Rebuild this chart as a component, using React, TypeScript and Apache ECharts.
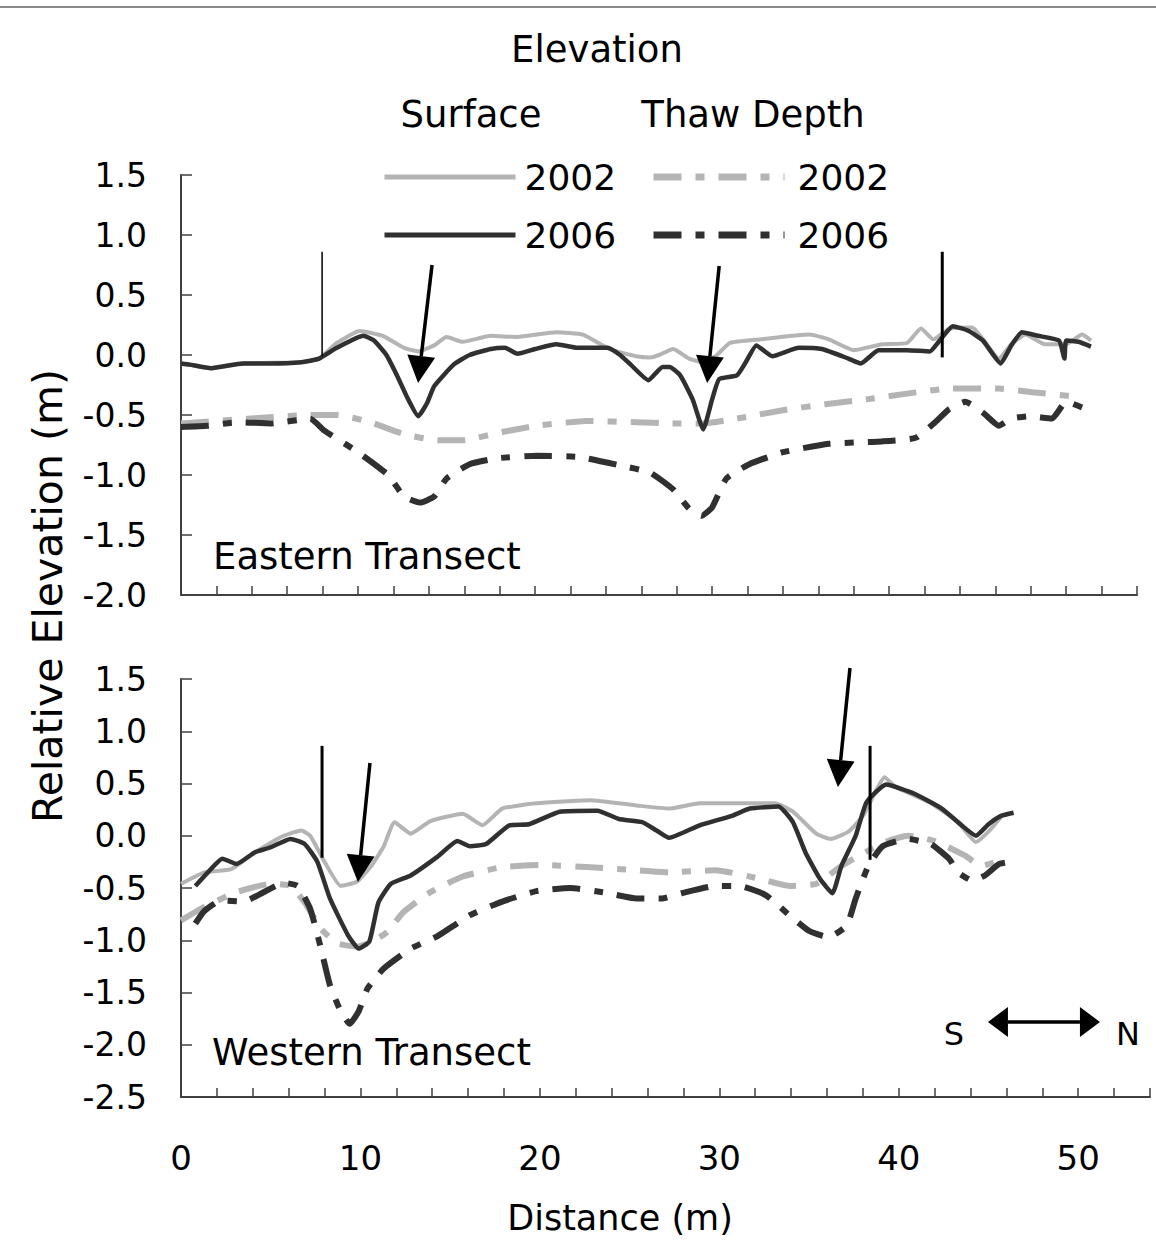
import React, { useEffect, useRef } from 'react';
import * as echarts from 'echarts';

const FONT = 'DejaVu Sans';
const DARK = '#303030';
const LIGHT = '#b4b4b4';
const THAW_DASH = [28, 14, 9, 14];

// ---------- Eastern transect (top panel) ----------
const eastSurface2002: [number, number][] = [
  [0, -0.07], [1.7, -0.11], [3.5, -0.07], [6.8, -0.06], [7.8, -0.03], [8.8, 0.1], [10.1, 0.2],
  [11.4, 0.16], [12.6, 0.06], [13.4, 0.03], [14.3, 0.08], [15.0, 0.15], [15.9, 0.11], [17.5, 0.16],
  [19.0, 0.15], [21.2, 0.19], [22.7, 0.17], [24.2, 0.05], [25.7, -0.01], [26.5, -0.02], [27.0, 0.0],
  [27.8, 0.05], [28.7, -0.03], [29.5, -0.06], [30.2, -0.01], [31.0, 0.1], [32.7, 0.13], [35.5, 0.17],
  [36.6, 0.13], [38.0, 0.04], [39.6, 0.09], [41.0, 0.1], [41.8, 0.22], [42.5, 0.13], [43.4, 0.22],
  [44.7, 0.23], [45.3, 0.13], [46.2, -0.03], [46.9, 0.09], [47.7, 0.17], [48.8, 0.09], [50.0, 0.09],
  [50.9, 0.17], [51.4, 0.12],
];
const eastSurface2006: [number, number][] = [
  [0, -0.07], [0.5, -0.08], [1.7, -0.11], [3.5, -0.07], [5.0, -0.07], [6.8, -0.06], [7.8, -0.03],
  [8.8, 0.06], [10.3, 0.16], [10.9, 0.12], [11.6, 0.0], [12.2, -0.17], [12.8, -0.36], [13.4, -0.51],
  [13.9, -0.4], [14.3, -0.26], [15.4, -0.08], [16.3, 0.0], [17.5, 0.05], [18.3, 0.06], [19.0, 0.01],
  [20.0, 0.05], [21.2, 0.09], [22.4, 0.06], [24.1, 0.06], [24.8, 0.0], [25.4, -0.08], [26.4, -0.21],
  [27.2, -0.1], [27.6, -0.1], [28.2, -0.17], [28.9, -0.37], [29.5, -0.62], [30.0, -0.37], [30.4, -0.2],
  [31.4, -0.17], [31.9, -0.06], [32.5, 0.08], [33.4, -0.01], [34.9, 0.06], [36.2, 0.05], [37.7, -0.03],
  [38.4, -0.07], [39.4, 0.04], [41.0, 0.04], [42.3, 0.03], [42.8, 0.11], [43.6, 0.24], [44.5, 0.2],
  [45.3, 0.12], [46.3, -0.07], [46.9, 0.08], [47.5, 0.19], [48.4, 0.16], [49.6, 0.12], [49.9, -0.03],
  [50.0, 0.12], [50.7, 0.11], [51.4, 0.07],
];
const eastThaw2002: [number, number][] = [
  [0, -0.57], [3.9, -0.53], [7.3, -0.5], [8.8, -0.5], [10.7, -0.56], [12.6, -0.66], [14.5, -0.71],
  [15.9, -0.71], [18.2, -0.64], [20.1, -0.59], [22.9, -0.55], [25.7, -0.56], [27.6, -0.57], [29.5, -0.57],
  [31.4, -0.53], [34.0, -0.46], [36.4, -0.41], [38.7, -0.37], [41.1, -0.32], [43.4, -0.28], [46.2, -0.28],
  [48.1, -0.31], [50.7, -0.35],
];
const eastThaw2006: [number, number][] = [
  [0, -0.6], [1.5, -0.59], [3.2, -0.56], [5.1, -0.57], [7.3, -0.53], [8.1, -0.63], [10.0, -0.81],
  [11.7, -1.0], [12.6, -1.18], [13.5, -1.23], [14.3, -1.18], [15.0, -1.03], [16.3, -0.91], [17.9, -0.86],
  [20.1, -0.84], [22.5, -0.85], [24.8, -0.92], [26.5, -0.98], [27.8, -1.12], [28.7, -1.28], [29.4, -1.34],
  [30.0, -1.27], [30.8, -1.03], [32.1, -0.91], [34.0, -0.81], [36.6, -0.74], [39.6, -0.72], [41.5, -0.69],
  [42.6, -0.56], [43.4, -0.45], [44.3, -0.39], [45.3, -0.48], [46.2, -0.59], [46.9, -0.53], [47.9, -0.51],
  [49.2, -0.53], [50.0, -0.39], [51.1, -0.45],
];

// ---------- Western transect (bottom panel) ----------
const westSurface2002: [number, number][] = [
  [0, -0.46], [1.3, -0.35], [2.8, -0.32], [4.1, -0.16], [5.6, -0.01], [6.7, 0.05], [7.2, 0.0],
  [8.0, -0.25], [8.9, -0.48], [9.8, -0.44], [10.6, -0.29], [11.3, -0.1], [11.9, 0.13], [12.8, 0.02],
  [13.9, 0.14], [15.7, 0.21], [16.8, 0.1], [17.9, 0.26], [19.8, 0.31], [22.8, 0.34], [25.4, 0.29],
  [27.2, 0.26], [28.9, 0.31], [33.1, 0.31], [34.1, 0.23], [35.4, 0.02], [36.2, -0.03], [37.2, 0.04],
  [38.0, 0.19], [38.7, 0.42], [39.2, 0.56], [39.8, 0.47], [41.7, 0.32], [43.3, 0.13], [44.3, -0.06],
  [45.0, 0.04], [45.7, 0.18],
];
const westSurface2006: [number, number][] = [
  [0.8, -0.48], [1.5, -0.35], [2.3, -0.22], [3.1, -0.27], [4.1, -0.16], [5.0, -0.11], [6.1, -0.03],
  [6.9, -0.08], [7.6, -0.25], [8.3, -0.6], [9.3, -0.95], [9.9, -1.08], [10.5, -1.01], [11.0, -0.64],
  [11.7, -0.46], [12.8, -0.38], [14.3, -0.2], [15.4, -0.05], [16.1, -0.1], [17.0, -0.08], [18.3, 0.1],
  [19.4, 0.11], [21.1, 0.23], [23.2, 0.24], [24.4, 0.16], [25.7, 0.13], [26.5, 0.05], [27.2, -0.02],
  [28.9, 0.1], [30.7, 0.19], [31.7, 0.26], [33.3, 0.28], [34.1, 0.13], [34.8, -0.16], [35.6, -0.41],
  [36.3, -0.55], [36.8, -0.29], [37.6, 0.0], [38.2, 0.32], [39.3, 0.49], [40.9, 0.4], [42.4, 0.26],
  [43.5, 0.1], [44.3, 0.0], [45.0, 0.11], [45.7, 0.19], [46.4, 0.22],
];
const westThaw2002: [number, number][] = [
  [0, -0.81], [1.3, -0.68], [3.1, -0.54], [5.0, -0.46], [6.1, -0.48], [6.9, -0.64], [7.8, -0.89],
  [8.7, -1.03], [9.8, -1.06], [10.7, -1.01], [11.5, -0.92], [12.4, -0.73], [13.9, -0.54], [15.7, -0.39],
  [17.9, -0.3], [20.2, -0.28], [22.6, -0.3], [25.4, -0.33], [27.2, -0.35], [29.8, -0.33], [32.2, -0.41],
  [33.9, -0.48], [35.4, -0.46], [36.8, -0.29], [38.1, -0.16], [39.4, -0.05], [40.5, 0.0], [42.0, -0.05],
  [43.7, -0.19], [44.6, -0.29], [45.4, -0.25],
];
const westThaw2006: [number, number][] = [
  [0.8, -0.84], [1.3, -0.72], [2.2, -0.62], [3.5, -0.63], [4.6, -0.54], [5.7, -0.45], [6.5, -0.48],
  [7.2, -0.7], [7.8, -1.08], [8.3, -1.43], [8.9, -1.68], [9.4, -1.8], [9.9, -1.68], [10.4, -1.46],
  [11.3, -1.27], [12.8, -1.08], [14.3, -0.96], [16.1, -0.76], [17.9, -0.63], [19.8, -0.53], [21.7, -0.5],
  [23.5, -0.54], [25.4, -0.6], [26.8, -0.6], [27.9, -0.55], [29.8, -0.48], [31.1, -0.48], [32.6, -0.57],
  [33.9, -0.76], [35.0, -0.91], [36.1, -0.97], [37.1, -0.86], [37.6, -0.6], [38.3, -0.29], [39.1, -0.1],
  [40.5, -0.03], [41.8, -0.08], [42.8, -0.22], [43.3, -0.35], [44.1, -0.43], [44.8, -0.38], [45.6, -0.27],
  [46.2, -0.25],
];

// ---------- Annotations (data coordinates) ----------
const eastMarkers = [
  { x: 7.97, y1: 0.86, y2: -0.01, w: 1.5 },
  { x: 43.0, y1: 0.86, y2: -0.02, w: 3 },
];
const eastArrows = [
  { from: [14.18, 0.75], to: [13.39, -0.233] },
  { from: [30.4, 0.742], to: [29.72, -0.233] },
];
const westMarkers = [
  { x: 7.86, y1: 0.86, y2: -0.21, w: 3 },
  { x: 38.4, y1: 0.86, y2: -0.23, w: 3 },
];
const westArrows = [
  { from: [10.53, 0.696], to: [9.86, -0.443] },
  { from: [37.28, 1.605], to: [36.61, 0.467] },
];
const compassArrow = { from: [44.97, -1.782], to: [51.21, -1.782] };

const X_MAX = 54;
const eastY = { min: -2.0, max: 1.5 };
const westY = { min: -2.5, max: 1.5 };

function lineSeries(name: string, data: [number, number][], grid: number, color: string, width: number, dashed: boolean, z: number) {
  return {
    type: 'line',
    name,
    data,
    xAxisIndex: grid,
    yAxisIndex: grid,
    symbol: 'none',
    showSymbol: false,
    smooth: 0.15,
    z,
    silent: true,
    lineStyle: { color, width, type: dashed ? THAW_DASH : 'solid', cap: 'butt' },
    itemStyle: { color },
    emphasis: { disabled: true },
  };
}

function xAxis(grid: number, showLabels: boolean) {
  return {
    type: 'value',
    gridIndex: grid,
    min: 0,
    max: X_MAX,
    interval: 2,
    axisLine: { show: true, onZero: false, lineStyle: { color: '#404040', width: 2 } },
    axisTick: { show: true, inside: true, length: 9, lineStyle: { color: '#404040', width: 1.5 } },
    splitLine: { show: false },
    axisLabel: {
      show: showLabels,
      margin: 44,
      fontSize: 34,
      fontFamily: FONT,
      color: '#000',
      formatter: (v: number) => (v % 10 === 0 ? String(v) : ''),
    },
  };
}

function yAxis(grid: number, range: { min: number; max: number }) {
  return {
    type: 'value',
    gridIndex: grid,
    min: range.min,
    max: range.max,
    interval: 0.5,
    axisLine: { show: true, onZero: false, lineStyle: { color: '#404040', width: 2 } },
    axisTick: { show: true, inside: true, length: 11, lineStyle: { color: '#404040', width: 1.5 } },
    splitLine: { show: false },
    axisLabel: {
      margin: 34,
      fontSize: 33,
      fontFamily: FONT,
      color: '#000',
      formatter: (v: number) => v.toFixed(1),
    },
  };
}

const option = {
  animation: false,
  backgroundColor: '#ffffff',
  grid: [
    { left: 181, top: 175, width: 956, height: 420 },
    { left: 181, top: 679, width: 969, height: 418 },
  ],
  xAxis: [xAxis(0, false), xAxis(1, true)],
  yAxis: [yAxis(0, eastY), yAxis(1, westY)],
  legend: [
    {
      data: ['Surface 2002', 'Surface 2006'],
      orient: 'vertical',
      left: 382,
      top: 159,
      padding: 0,
      itemWidth: 131,
      itemHeight: 14,
      itemGap: 22,
      selectedMode: false,
      formatter: (n: string) => n.slice(-4),
      textStyle: { fontSize: 36, fontFamily: FONT, color: '#000', padding: [0, 0, 0, 4] },
      lineStyle: { width: 5 },
      itemStyle: { opacity: 0 },
    },
    {
      data: ['Thaw Depth 2002', 'Thaw Depth 2006'],
      orient: 'vertical',
      left: 650,
      top: 159,
      padding: 0,
      itemWidth: 131,
      itemHeight: 14,
      itemGap: 22,
      selectedMode: false,
      formatter: (n: string) => n.slice(-4),
      textStyle: { fontSize: 36, fontFamily: FONT, color: '#000', padding: [0, 0, 0, 8] },
      lineStyle: { width: 7 },
      itemStyle: { opacity: 0 },
    },
  ],
  series: [
    lineSeries('Surface 2002', eastSurface2002, 0, LIGHT, 4, false, 2),
    lineSeries('Thaw Depth 2002', eastThaw2002, 0, LIGHT, 6, true, 2),
    lineSeries('Surface 2006', eastSurface2006, 0, DARK, 4.5, false, 3),
    lineSeries('Thaw Depth 2006', eastThaw2006, 0, DARK, 6, true, 3),
    lineSeries('Surface 2002', westSurface2002, 1, LIGHT, 4, false, 2),
    lineSeries('Thaw Depth 2002', westThaw2002, 1, LIGHT, 6, true, 2),
    lineSeries('Surface 2006', westSurface2006, 1, DARK, 4.5, false, 3),
    lineSeries('Thaw Depth 2006', westThaw2006, 1, DARK, 6, true, 3),
  ],
};

function text(id: string, str: string, x: number, y: number, size: number, align: string = 'center', rotation = 0) {
  return {
    type: 'text',
    id,
    x,
    y,
    rotation,
    silent: true,
    z: 10,
    style: {
      text: str,
      fontSize: size,
      fontFamily: FONT,
      fill: '#000',
      align,
      verticalAlign: 'middle',
    },
  };
}

function buildGraphics(chart: any) {
  const els: any[] = [];
  const px = (grid: number, p: number[]) => chart.convertToPixel({ gridIndex: grid }, p) as number[];
  let k = 0;
  const addLine = (a: number[], b: number[], w: number) => {
    els.push({
      type: 'line', id: 'ln' + k++, silent: true, z: 20,
      shape: { x1: a[0], y1: a[1], x2: b[0], y2: b[1] },
      style: { stroke: '#000', lineWidth: w },
    });
  };
  const addHead = (tip: number[], from: number[], len: number, wid: number) => {
    const dx = tip[0] - from[0];
    const dy = tip[1] - from[1];
    const L = Math.hypot(dx, dy);
    const ux = dx / L, uy = dy / L;
    const bx = tip[0] - ux * len, by = tip[1] - uy * len;
    const nx = -uy, ny = ux;
    els.push({
      type: 'polygon', id: 'hd' + k++, silent: true, z: 20,
      shape: { points: [[tip[0], tip[1]], [bx + nx * wid / 2, by + ny * wid / 2], [bx - nx * wid / 2, by - ny * wid / 2]] },
      style: { fill: '#000' },
    });
    return [bx, by];
  };
  const addArrow = (grid: number, from: number[], to: number[]) => {
    const a = px(grid, from);
    const b = px(grid, to);
    const base = addHead(b, a, 27, 28);
    addLine(a, base, 3.5);
  };
  eastMarkers.forEach((m) => addLine(px(0, [m.x, m.y1]), px(0, [m.x, m.y2]), m.w));
  westMarkers.forEach((m) => addLine(px(1, [m.x, m.y1]), px(1, [m.x, m.y2]), m.w));
  eastArrows.forEach((a) => addArrow(0, a.from, a.to));
  westArrows.forEach((a) => addArrow(1, a.from, a.to));
  {
    const a = px(1, compassArrow.from);
    const b = px(1, compassArrow.to);
    const b1 = addHead(b, a, 20, 30);
    const a1 = addHead(a, b, 20, 30);
    addLine(a1, b1, 3.5);
  }

  els.push(text('t-elev', 'Elevation', 597, 49, 37));
  els.push(text('t-surf', 'Surface', 471, 114, 37));
  els.push(text('t-thaw', 'Thaw Depth', 753, 114, 37));
  els.push(text('t-east', 'Eastern Transect', 213, 556, 37, 'left'));
  els.push(text('t-west', 'Western Transect', 212, 1052, 37, 'left'));
  els.push(text('t-s', 'S', 954, 1034, 32));
  els.push(text('t-n', 'N', 1128, 1034, 32));
  els.push(text('t-dist', 'Distance (m)', 620, 1218, 35));
  els.push(text('t-yname', 'Relative Elevation (m)', 48, 596, 41, 'center', Math.PI / 2));
  els.push({
    type: 'line', id: 'topline', silent: true,
    shape: { x1: 0, y1: 7, x2: 1156, y2: 7 },
    style: { stroke: '#8a8a8a', lineWidth: 2 },
  });
  return els;
}

export default function App() {
  const ref = useRef<HTMLDivElement>(null);
  useEffect(() => {
    if (!ref.current) return;
    const chart = echarts.init(ref.current, null, { renderer: 'svg' });
    chart.setOption(option as any);
    chart.setOption({ graphic: { elements: buildGraphics(chart) } } as any);
    return () => chart.dispose();
  }, []);
  return (
    <div
      ref={ref}
      style={{ position: 'fixed', left: 0, top: 0, width: 1156, height: 1250, background: '#fff' }}
    />
  );
}
